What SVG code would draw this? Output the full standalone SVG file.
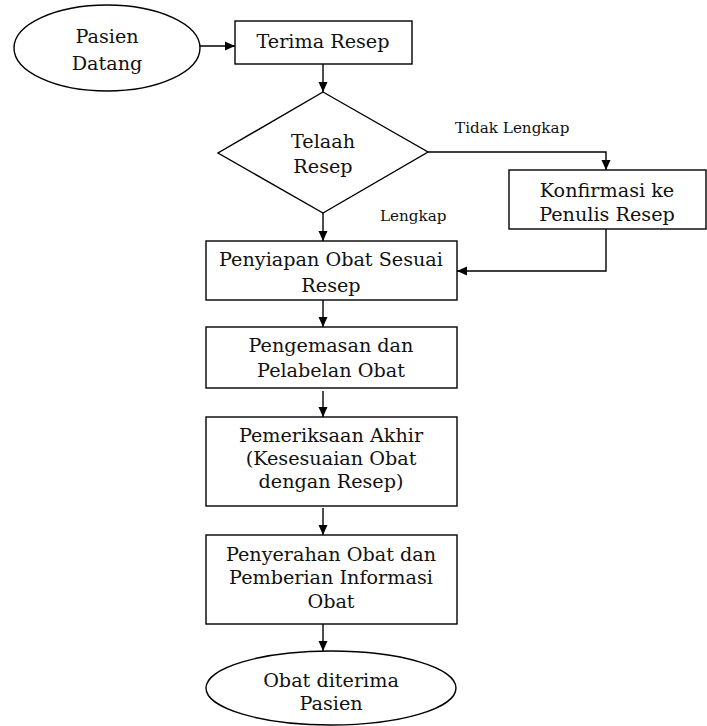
<svg xmlns="http://www.w3.org/2000/svg" width="707" height="726" viewBox="0 0 707 726">
<style>
.s{fill:#fff;stroke:#000;stroke-width:1.4}
.t{font-family:"DejaVu Serif","Liberation Serif",serif;font-size:19.2px;fill:#111;text-anchor:middle}
.l{font-family:"DejaVu Serif","Liberation Serif",serif;font-size:15.2px;fill:#111}
.c{fill:none;stroke:#000;stroke-width:1.4}
</style>
<defs>
<marker id="a" viewBox="0 0 10 10" refX="10" refY="5" markerWidth="10" markerHeight="10" markerUnits="userSpaceOnUse" orient="auto">
<path d="M0,0.5 L10,5 L0,9.5 z" fill="#000"/>
</marker>
</defs>
<rect width="707" height="726" fill="#fff"/>
<g id="connectors">
<path class="c" d="M200,46 H235" marker-end="url(#a)"/>
<path class="c" d="M323,64 V92" marker-end="url(#a)"/>
<path class="c" d="M428,152 H606 V170" marker-end="url(#a)"/>
<path class="c" d="M323,213 V241" marker-end="url(#a)"/>
<path class="c" d="M606,229 V271 H457" marker-end="url(#a)"/>
<path class="c" d="M323,300 V327" marker-end="url(#a)"/>
<path class="c" d="M323,391 V417" marker-end="url(#a)"/>
<path class="c" d="M323,508 V535" marker-end="url(#a)"/>
<path class="c" d="M323,624 V651" marker-end="url(#a)"/>
<text class="l" x="455" y="133">Tidak Lengkap</text>
<text class="l" x="380" y="221">Lengkap</text>
</g>
<g id="pasien-datang">
<ellipse class="s" cx="107" cy="48" rx="93" ry="43"/>
<text class="t" x="107" y="43">Pasien</text>
<text class="t" x="107" y="70">Datang</text>
</g>
<g id="terima-resep">
<rect class="s" x="235" y="21" width="177" height="43"/>
<text class="t" x="323" y="48">Terima Resep</text>
</g>
<g id="telaah-resep">
<polygon class="s" points="323,92 428,152 323,213 218,153"/>
<text class="t" x="323" y="148">Telaah</text>
<text class="t" x="323" y="173">Resep</text>
</g>
<g id="konfirmasi">
<rect class="s" x="509" y="170" width="197" height="59"/>
<text class="t" x="607" y="197">Konfirmasi ke</text>
<text class="t" x="607" y="221">Penulis Resep</text>
</g>
<g id="penyiapan">
<rect class="s" x="206" y="241" width="251" height="59"/>
<text class="t" x="331" y="266">Penyiapan Obat Sesuai</text>
<text class="t" x="331" y="292">Resep</text>
</g>
<g id="pengemasan">
<rect class="s" x="206" y="327" width="251" height="61"/>
<text class="t" x="331" y="352">Pengemasan dan</text>
<text class="t" x="331" y="377">Pelabelan Obat</text>
</g>
<g id="pemeriksaan">
<rect class="s" x="206" y="417" width="251" height="89"/>
<text class="t" x="331" y="442">Pemeriksaan Akhir</text>
<text class="t" x="331" y="465">(Kesesuaian Obat</text>
<text class="t" x="331" y="488">dengan Resep)</text>
</g>
<g id="penyerahan">
<rect class="s" x="206" y="535" width="251" height="89"/>
<text class="t" x="331" y="561">Penyerahan Obat dan</text>
<text class="t" x="331" y="584">Pemberian Informasi</text>
<text class="t" x="331" y="608">Obat</text>
</g>
<g id="obat-diterima">
<ellipse class="s" cx="331" cy="688" rx="125" ry="37"/>
<text class="t" x="331" y="687">Obat diterima</text>
<text class="t" x="331" y="710">Pasien</text>
</g>
</svg>
